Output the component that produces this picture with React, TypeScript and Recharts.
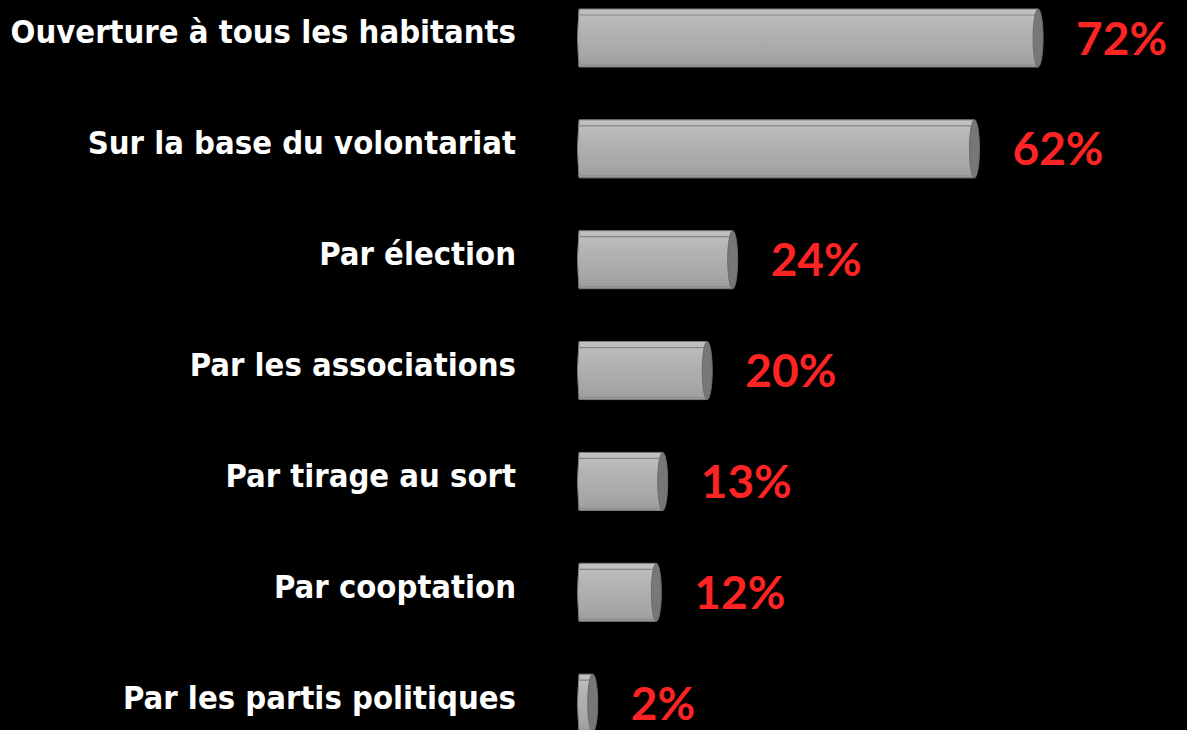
import { BarChart, Bar, XAxis, YAxis, LabelList } from 'recharts'

const categories = [
  'Ouverture à tous les habitants',
  'Sur la base du volontariat',
  'Par élection',
  'Par les associations',
  'Par tirage au sort',
  'Par cooptation',
  'Par les partis politiques',
]

const values = [72, 62, 24, 20, 13, 12, 2]

const data = categories.map((name, i) => ({ name, value: values[i] }))

function Cylinder(props: any) {
  const { x, y, width, height } = props
  const h = height
  const left = x - 3
  const right = x + width
  const rx = 5
  const body = `M ${left + 2} ${y} L ${right} ${y} L ${right} ${y + h} L ${left + 2} ${y + h} Q ${left - 1} ${y + h / 2} ${left + 2} ${y} Z`
  return (
    <g>
      <path d={body} fill="url(#cylGrad)" stroke="#7c7c7c" strokeWidth={1} />
      <line x1={left + 1} x2={right} y1={y + 6} y2={y + 6} stroke="#858585" strokeWidth={1.2} />
      <line x1={left + 1} x2={right} y1={y + h - 2} y2={y + h - 2} stroke="#8c8c8c" strokeWidth={1} />
      <ellipse cx={right} cy={y + h / 2} rx={rx} ry={h / 2} fill="#777777" stroke="#6a6a6a" strokeWidth={1} />
    </g>
  )
}

function CategoryTick(props: any) {
  const { y, payload } = props
  return (
    <text
      x={516}
      y={y - 6}
      textAnchor="end"
      dominantBaseline="central"
      fill="#ffffff"
      fontFamily="'DejaVu Sans Condensed', 'DejaVu Sans', sans-serif"
      fontWeight="bold"
      fontSize={32.5}
    >
      {payload.value}
    </text>
  )
}

function ValueLabel(props: any) {
  const { x, y, width, height, value } = props
  return (
    <text
      x={x + width + 38}
      y={y + height / 2 - 1}
      dominantBaseline="central"
      fill="#ff2424"
      fontFamily="Lato, 'Open Sans', sans-serif"
      fontWeight="bold"
      fontSize={46}
    >
      {value}%
    </text>
  )
}

export default function App() {
  return (
    <div
      style={{
        position: 'fixed',
        left: 0,
        top: 0,
        width: 1187,
        height: 730,
        background: '#000000',
        overflow: 'hidden',
      }}
    >
      <div style={{ position: 'absolute', left: 0, top: -17 }}>
        <BarChart
          width={1187}
          height={776}
          data={data}
          layout="vertical"
          margin={{ top: 0, right: 98, bottom: 0, left: 0 }}
          barSize={58}
        >
          <defs>
            <linearGradient id="cylGrad" x1="0" y1="0" x2="0" y2="1">
              <stop offset="0%" stopColor="#c2c2c2" />
              <stop offset="35%" stopColor="#b3b3b3" />
              <stop offset="75%" stopColor="#a8a8a8" />
              <stop offset="100%" stopColor="#9c9c9c" />
            </linearGradient>
          </defs>
          <XAxis type="number" domain={[0, 80]} hide />
          <YAxis
            type="category"
            dataKey="name"
            width={580}
            axisLine={false}
            tickLine={false}
            tick={<CategoryTick />}
            interval={0}
          />
          <Bar dataKey="value" shape={<Cylinder />} isAnimationActive={false}>
            <LabelList dataKey="value" content={<ValueLabel />} />
          </Bar>
        </BarChart>
      </div>
    </div>
  )
}
